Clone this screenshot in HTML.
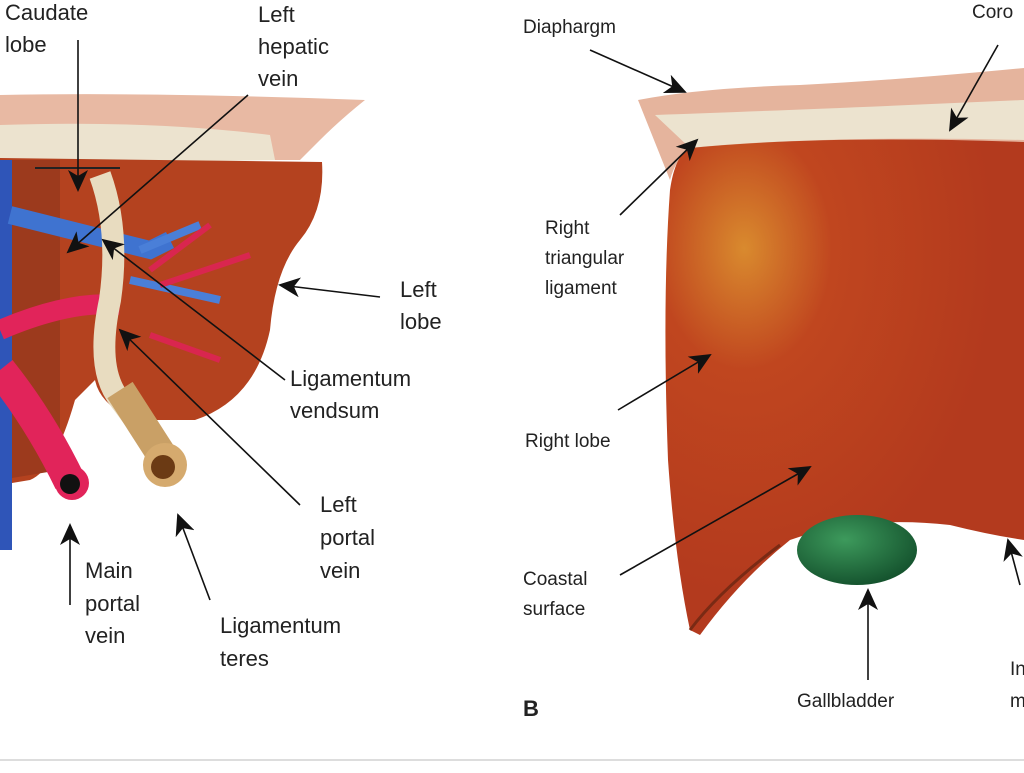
<!DOCTYPE html>
<html><head><style>
body{margin:0;background:#fff;width:1024px;height:768px;overflow:hidden}
text{font-family:"Liberation Sans",sans-serif;fill:#222}
</style></head><body>
<svg width="1024" height="768" viewBox="0 0 1024 768">
<defs>
<marker id="a" markerWidth="22" markerHeight="20" refX="20" refY="10" orient="auto" markerUnits="userSpaceOnUse"><path d="M0,0 L22,10 L0,20 L6,10 Z" fill="#111"/></marker>
<radialGradient id="g1" cx="0.22" cy="0.22" r="0.7"><stop offset="0" stop-color="#d98a2e"/><stop offset="0.35" stop-color="#c0461f"/><stop offset="1" stop-color="#b33a1e"/></radialGradient>
<radialGradient id="gb" cx="0.4" cy="0.35" r="0.7"><stop offset="0" stop-color="#3d9a5c"/><stop offset="1" stop-color="#13502c"/></radialGradient>
</defs>
<path d="M0,95 Q150,92 365,100 Q340,120 320,140 L300,160 L0,160 Z" fill="#e8b9a3"/>
<path d="M0,125 Q150,120 270,135 L275,160 L0,165 Z" fill="#ece3cf"/>
<path d="M0,158 L322,162 Q325,210 300,240 Q275,270 270,330 Q255,400 195,420 L135,420 Q100,405 95,380 L75,400 Q55,470 30,480 L0,485 Z" fill="#b4421f"/>
<path d="M0,160 L60,160 L60,470 L0,480 Z" fill="#9c3a1d"/>
<rect x="0" y="160" width="12" height="390" fill="#2f55b8"/>
<path d="M10,215 L150,250 L170,240" stroke="#3f73d0" stroke-width="18" fill="none"/>
<path d="M130,280 L220,300 M140,250 L200,225" stroke="#4a7fd8" stroke-width="8" fill="none"/>
<path d="M150,270 L210,225 M160,285 L250,255 M150,335 L220,360" stroke="#d9264f" stroke-width="6" fill="none"/>
<path d="M0,330 Q70,300 120,305" stroke="#e1245a" stroke-width="20" fill="none"/>
<path d="M0,370 Q40,420 70,482" stroke="#e1245a" stroke-width="32" fill="none"/>
<circle cx="72" cy="483" r="17" fill="#e1245a"/><circle cx="70" cy="484" r="10" fill="#111"/>
<path d="M100,175 Q120,230 110,300 Q95,370 120,400 L165,460" stroke="#e8dcc0" stroke-width="22" fill="none"/>
<path d="M120,390 L165,460" stroke="#c9a066" stroke-width="30" fill="none"/>
<circle cx="165" cy="465" r="22" fill="#d5aa6e"/><circle cx="163" cy="467" r="12" fill="#6b3a14"/>
<path d="M35,168 L120,168" stroke="#222" stroke-width="2"/>
<path d="M638,100 Q700,88 800,85 Q900,80 1024,68 L1024,150 Q820,140 690,150 Q675,160 670,180 Q650,130 638,100 Z" fill="#e5b49d"/>
<path d="M655,115 Q800,110 1024,100 L1024,140 Q820,135 690,148 Z" fill="#ece3cf"/>
<path d="M690,148 Q820,135 1024,142 L1024,540 Q990,535 950,525 Q860,515 790,540 Q740,580 700,635 L690,630 Q675,560 668,460 Q662,300 670,190 Q675,155 690,148 Z" fill="url(#g1)"/>
<path d="M690,630 Q720,590 780,545" stroke="#7a2a14" stroke-width="3" fill="none"/>
<ellipse cx="857" cy="550" rx="60" ry="35" fill="url(#gb)"/>
<path d="M0,760 L1024,760" stroke="#ddd" stroke-width="2"/>
<g stroke="#111" stroke-width="1.6" fill="none" marker-end="url(#a)">
<path d="M78,40 L78,190"/><path d="M248,95 L68,252"/><path d="M380,297 L280,285"/>
<path d="M285,380 L103,240"/><path d="M300,505 L120,330"/><path d="M70,605 L70,525"/>
<path d="M210,600 L178,515"/><path d="M590,50 L685,92"/><path d="M998,45 L950,130"/>
<path d="M620,215 L697,140"/><path d="M618,410 L710,355"/><path d="M620,575 L810,467"/>
<path d="M868,680 L868,590"/><path d="M1020,585 L1008,540"/>
</g>
<g font-size="22">
<text x="5" y="20">Caudate</text><text x="5" y="52">lobe</text>
<text x="258" y="22">Left</text><text x="258" y="54">hepatic</text><text x="258" y="86">vein</text>
<text x="400" y="297">Left</text><text x="400" y="329">lobe</text>
<text x="290" y="386">Ligamentum</text><text x="290" y="418">vendsum</text>
<text x="320" y="512">Left</text><text x="320" y="545">portal</text><text x="320" y="578">vein</text>
<text x="85" y="578">Main</text><text x="85" y="611">portal</text><text x="85" y="643">vein</text>
<text x="220" y="633">Ligamentum</text><text x="220" y="666">teres</text>
</g>
<g font-size="19">
<text x="523" y="33">Diaphargm</text><text x="972" y="18">Coro</text>
<text x="545" y="234">Right</text><text x="545" y="264">triangular</text><text x="545" y="294">ligament</text>
<text x="525" y="447">Right lobe</text>
<text x="523" y="585">Coastal</text><text x="523" y="615">surface</text>
<text x="797" y="707">Gallbladder</text>
<text x="1010" y="675">In</text><text x="1010" y="707">m</text>
</g>
<text x="523" y="716" font-size="22" font-weight="bold">B</text>
</svg>
</body></html>
